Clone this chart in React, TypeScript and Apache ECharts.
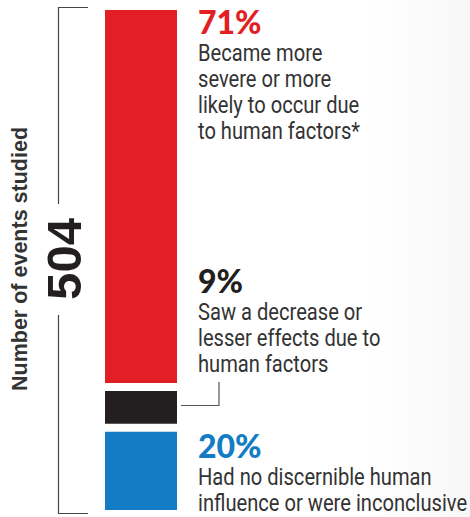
import React, { useEffect, useRef } from "react";
import * as echarts from "echarts";

// Bar segment shares as drawn in the picture (bottom to top: blue, black, red)
const segmentNames = ["No discernible influence", "Decrease", "More severe / likely"];
const drawnShares = [17, 8, 75];
const segmentColors = ["#137cc4", "#231f20", "#e31f26"];

// Labels, top to bottom
const percentLabels = ["71%", "9%", "20%"];
const percentColors = ["#e31f26", "#231f20", "#137cc4"];
const descriptionLines = [
  ["Became more", "severe or more", "likely to occur due", "to human factors*"],
  ["Saw a decrease or", "lesser effects due to", "human factors"],
  ["Had no discernible human", "influence or were inconclusive"],
];
const totalEvents = "504";
const axisTitle = "Number of events studied";

const W = 470;
const H = 517;

export default function App() {
  const ref = useRef<HTMLDivElement>(null);
  useEffect(() => {
    if (!ref.current) return;
    const chart = echarts.init(ref.current, undefined, { renderer: "svg", width: W, height: H });

    const descFont = "Roboto, 'Liberation Sans', sans-serif";
    const descSize = 23;
    const descScaleX = 0.875;
    const pctFont = "Lato, 'Liberation Sans', sans-serif";
    const pctSize = 32;
    const textX = 198;
    // baselines of percentage labels
    const pctBaselines = [33, 292, 457];
    const lineGap = 25.8;

    const graphics: any[] = [];
    // faint background on the right
    graphics.push({
      type: "rect",
      z: -10,
      shape: { x: 370, y: 0, width: 100, height: H },
      style: {
        fill: {
          type: "linear",
          x: 0, y: 0, x2: 1, y2: 0,
          colorStops: [
            { offset: 0, color: "rgba(236,236,236,0)" },
            { offset: 1, color: "rgba(236,236,236,0.4)" },
          ],
        },
      },
      silent: true,
    });

    percentLabels.forEach((p, i) => {
      const b = pctBaselines[i];
      graphics.push({
        type: "text",
        x: textX,
        y: b - 0.35 * pctSize,
        style: {
          text: p,
          fill: percentColors[i],
          fontFamily: pctFont,
          fontWeight: 900,
          fontSize: pctSize,
          textAlign: "left",
          textVerticalAlign: "middle",
          verticalAlign: "middle",
        },
      });
      descriptionLines[i].forEach((line, j) => {
        const lb = b + lineGap * (j + 1);
        graphics.push({
          type: "text",
          x: textX,
          y: lb - 0.35 * descSize + 2.5,
          scaleX: descScaleX,
          style: {
            text: line,
            fill: "#333333",
            fontFamily: descFont,
            fontSize: descSize,
            textAlign: "left",
            textVerticalAlign: "middle",
            verticalAlign: "middle",
          },
        });
      });
    });

    // bracket lines
    const bracketStyle = { stroke: "#444", lineWidth: 1.2 };
    graphics.push({
      type: "polyline",
      shape: { points: [[88, 7.5], [58.5, 7.5], [58.5, 204]] },
      style: { ...bracketStyle, fill: null },
    });
    graphics.push({
      type: "polyline",
      shape: { points: [[58.5, 315], [58.5, 513.5], [88, 513.5]] },
      style: { ...bracketStyle, fill: null },
    });
    // connector for 9%
    graphics.push({
      type: "polyline",
      shape: { points: [[181, 405.5], [219, 405.5], [219, 382]] },
      style: { stroke: "#555", lineWidth: 1.2, fill: null },
    });

    graphics.push({
      type: "text",
      x: 64,
      y: 259,
      rotation: Math.PI / 2,
      style: {
        text: totalEvents,
        fill: "#231f20",
        fontFamily: "'Liberation Sans', Arial, sans-serif",
        fontWeight: "bold",
        fontSize: 49,
        textAlign: "center",
        textVerticalAlign: "middle",
        verticalAlign: "middle",
      },
    });
    graphics.push({
      type: "text",
      x: 20,
      y: 259,
      rotation: Math.PI / 2,
      style: {
        text: axisTitle,
        fill: "#333333",
        fontFamily: "'Liberation Sans', Arial, sans-serif",
        fontWeight: "bold",
        fontSize: 21.5,
        textAlign: "center",
        textVerticalAlign: "middle",
        verticalAlign: "middle",
      },
    });

    const total = drawnShares.reduce((a, b) => a + b, 0);

    chart.setOption({
      animation: false,
      backgroundColor: "#ffffff",
      grid: { left: 101, top: 6, width: 80, height: 508 },
      xAxis: { type: "category", data: ["Events"], show: false },
      yAxis: { type: "value", min: 0, max: total, show: false },
      series: drawnShares.map((v, i) => ({
        name: segmentNames[i],
        type: "bar",
        stack: "all",
        barWidth: 80,
        data: [v],
        itemStyle: { color: segmentColors[i], borderColor: "#ffffff", borderWidth: 4 },
        silent: true,
      })),
      graphic: { elements: graphics },
    });

    return () => chart.dispose();
  }, []);

  return (
    <div
      ref={ref}
      style={{ position: "absolute", left: 0, top: 0, width: W, height: H }}
    />
  );
}
